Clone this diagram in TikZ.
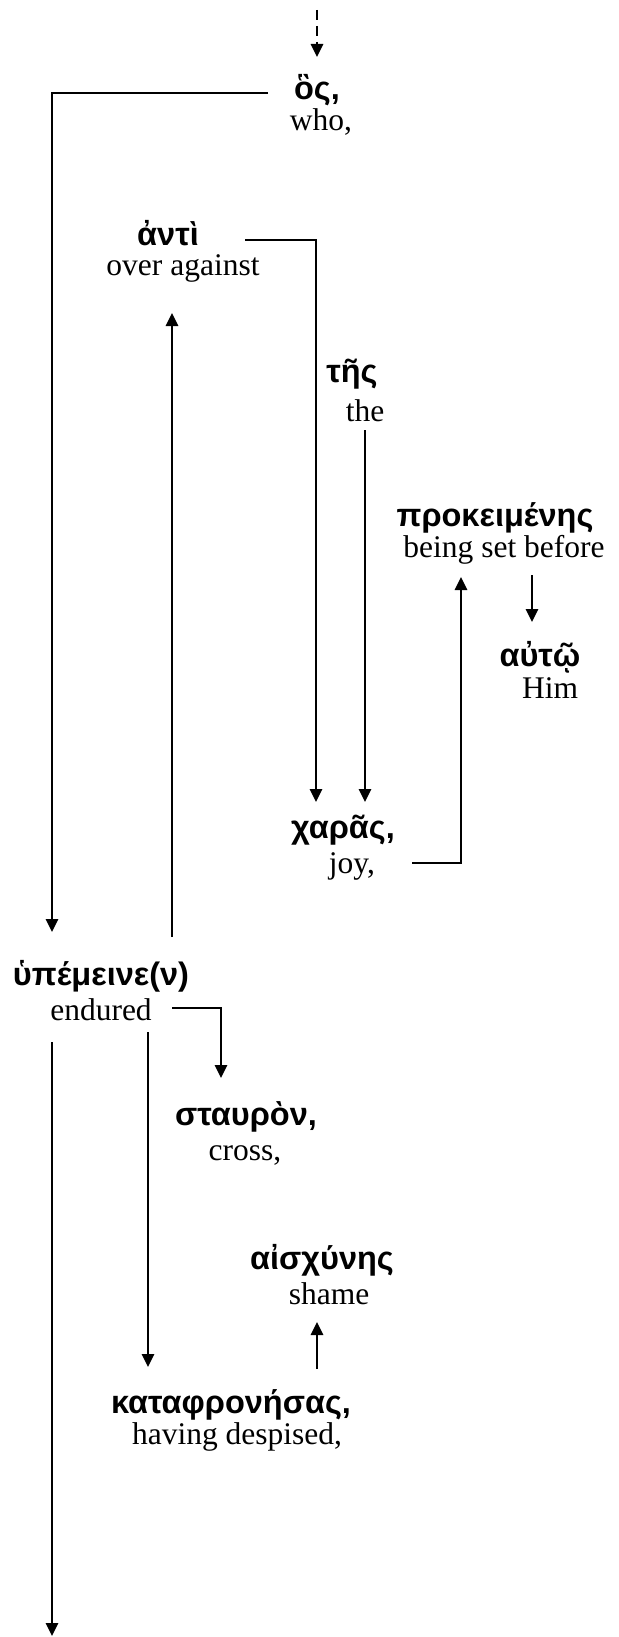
\documentclass[tikz,border=0pt]{standalone}
\usepackage{fontspec}
\setmainfont{Liberation Serif}
\newfontfamily\gkfont{Liberation Sans}
\usetikzlibrary{arrows.meta,calc}
\begin{document}
\begin{tikzpicture}[x=1pt,y=-1pt,
  gk/.style={font=\gkfont\bfseries\fontsize{32.5}{36}\selectfont, inner sep=0pt},
  en/.style={font=\fontsize{31.5}{36}\selectfont, inner sep=0pt},
  conn/.style={line width=2.6pt},
  arr/.style={conn, -{Triangle[length=13pt,width=12pt]}},
  dsh/.style={dash pattern=on 10pt off 6pt}
]
\useasboundingbox (0,0) rectangle (618,1637);
% words
\node[gk] (os) at (317,90) {ὃς,};
\node[en] (who) at (321,122) {who,};
\node[gk] (anti) at (168,233) {ἀντὶ};
\node[en] (over) at (183,268) {over against};
\node[gk] (tes) at (352,374) {τῆς};
\node[en] (the) at (365,411) {the};
\node[gk] (prok) at (495,518) {προκειμένης};
\node[en] (being) at (504,550) {being set before};
\node[gk] (auto) at (540,657) {αὐτῷ};
\node[en] (him) at (550,688) {Him};
\node[gk] (chara) at (343,830) {χαρᾶς,};
\node[en] (joy) at (352,866) {joy,};
\node[gk] (upm) at (101,976) {ὑπέμεινε(ν)};
\node[en] (endured) at (101,1010) {endured};
\node[gk] (stauron) at (246,1117) {σταυρὸν,};
\node[en] (cross) at (245,1155) {cross,};
\node[gk] (aisch) at (322,1260) {αἰσχύνης};
\node[en] (shame) at (329,1294) {shame};
\node[gk] (kata) at (231,1405) {καταφρονήσας,};
\node[en] (despised) at (237,1437) {having despised,};
\coordinate (bottom) at (52,1636);
% connectors
\draw[arr,dsh] ($(os)+(0,-80)$) -- ($(os)+(0,-33)$);
\draw[arr] ($(os)+(-49,3)$) -| ($(upm)+(-49,-44)$);
\draw[arr] ($(anti)+(77,7)$) -| ($(chara)+(-27,-28)$);
\draw[arr] ($(the)+(0,19)$) -- ($(chara)+(22,-28)$);
\draw[arr] ($(upm)+(71,-39)$) -- ($(over)+(-11,45)$);
\draw[arr] ($(joy)+(60,-3)$) -| ($(being)+(-43,27)$);
\draw[arr] ($(being)+(28,25)$) -- ($(auto)+(-8,-35)$);
\draw[arr] ($(endured)+(71,-2)$) -| ($(stauron)+(-25,-39)$);
\draw[arr] ($(endured)+(47,22)$) -- ($(kata)+(-83,-38)$);
\draw[arr] ($(endured)+(-49,32)$) -- (bottom);
\draw[arr] ($(kata)+(86,-36)$) -- ($(shame)+(-12,28)$);
\end{tikzpicture}
\end{document}
